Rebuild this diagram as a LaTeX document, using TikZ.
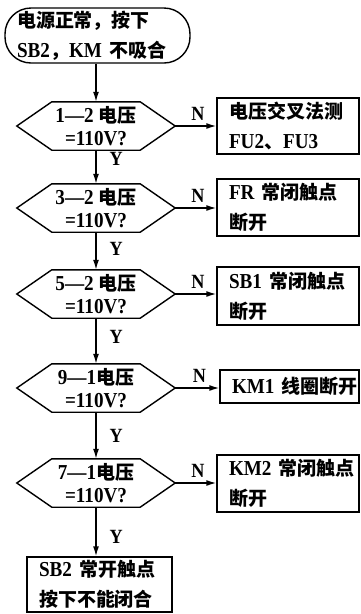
\documentclass[tikz,border=0pt]{standalone}
\usepackage{fontspec}
\setmainfont{Liberation Serif}[Scale=1.12,FakeStretch=0.9]
\newfontfamily\cjk{Noto Sans CJK SC}
\usetikzlibrary{arrows.meta}
\begin{document}
\begin{tikzpicture}[x=1pt,y=-1pt,
  txt/.style={font=\fontsize{19}{30}\selectfont\bfseries},
  bx/.style={txt,draw,line width=1.4pt,align=left,inner xsep=12pt,inner ysep=0pt},
  hexn/.style={font=\fontsize{19}{23}\selectfont\bfseries,align=center,inner sep=0pt,minimum width=158pt,minimum height=48pt},
  hexline/.style={line width=1.4pt},
  arr/.style={line width=1.4pt,-{Latex[length=10pt,width=6pt]}},
  lab/.style={font=\fontsize{18}{20}\selectfont\bfseries,inner sep=0pt}]
\useasboundingbox (0,0) rectangle (361,614);
% start
\node[bx,rounded corners=26pt,minimum width=185pt,minimum height=55pt,text width=161pt] (s) at (97.5,35.5)
  {\mbox{\cjk 电源正常，按下}\\\mbox{SB2{\cjk ，}KM {\cjk 不吸合}}};
% hexagons
\foreach \n/\y/\t in {h1/126/1—2 {\cjk 电压},h2/208/3—2 {\cjk 电压},h3/294/5—2 {\cjk 电压},h4/388/9—1{\cjk 电压},h5/483/7—1{\cjk 电压}}{
  \node[hexn] (\n) at (96,\y) {\mbox{\t}\\=110V?};
  \draw[hexline] (\n.west) -- ([xshift=35pt]\n.north west) -- ([xshift=-35pt]\n.north east)
     -- (\n.east) -- ([xshift=-35pt]\n.south east) -- ([xshift=35pt]\n.south west) -- cycle;
}
% boxes
\node[bx,minimum height=56pt,text width=118pt] (b1) at (288,126) {\mbox{\cjk 电压交叉法测}\\\mbox{FU2{\cjk 、}FU3}};
\node[bx,minimum height=57pt,text width=118pt] (b2) at (288,207.5) {\mbox{FR {\cjk 常闭触点}}\\\mbox{\cjk 断开}};
\node[bx,minimum height=58pt,text width=118pt] (b3) at (288,296) {\mbox{SB1 {\cjk 常闭触点}}\\\mbox{\cjk 断开}};
\node[bx,minimum height=33pt,text width=115pt] (b4) at (289.5,386.5) {\mbox{KM1 {\cjk 线圈断开}}};
\node[bx,minimum height=57pt,text width=118pt] (b5) at (288,483.5) {\mbox{KM2 {\cjk 常闭触点}}\\\mbox{\cjk 断开}};
\node[bx,minimum height=55pt,text width=121pt] (b6) at (99.5,584.5) {\mbox{SB2 {\cjk 常开触点}}\\\mbox{\cjk 按下不能闭合}};
% vertical arrows
\draw[arr] (s.south -| h1.north) -- (h1.north);
\draw[arr] (h1.south) -- node[lab,right=13pt,pos=0.25]{Y} (h2.north);
\draw[arr] (h2.south) -- node[lab,right=13pt,pos=0.45]{Y} (h3.north);
\draw[arr] (h3.south) -- node[lab,right=13pt,pos=0.4]{Y} (h4.north);
\draw[arr] (h4.south) -- node[lab,right=13pt,pos=0.5]{Y} (h5.north);
\draw[arr] (h5.south) -- node[lab,right=13pt,pos=0.6]{Y} (h5.south |- b6.north);
% N arrows
\foreach \h/\b in {h1/b1,h2/b2,h3/b3,h4/b4,h5/b5}{
  \draw[arr] (\h.east) -- node[lab,above=5pt,pos=0.55]{N} (\h.east -| \b.west);
}
\end{tikzpicture}
\end{document}
